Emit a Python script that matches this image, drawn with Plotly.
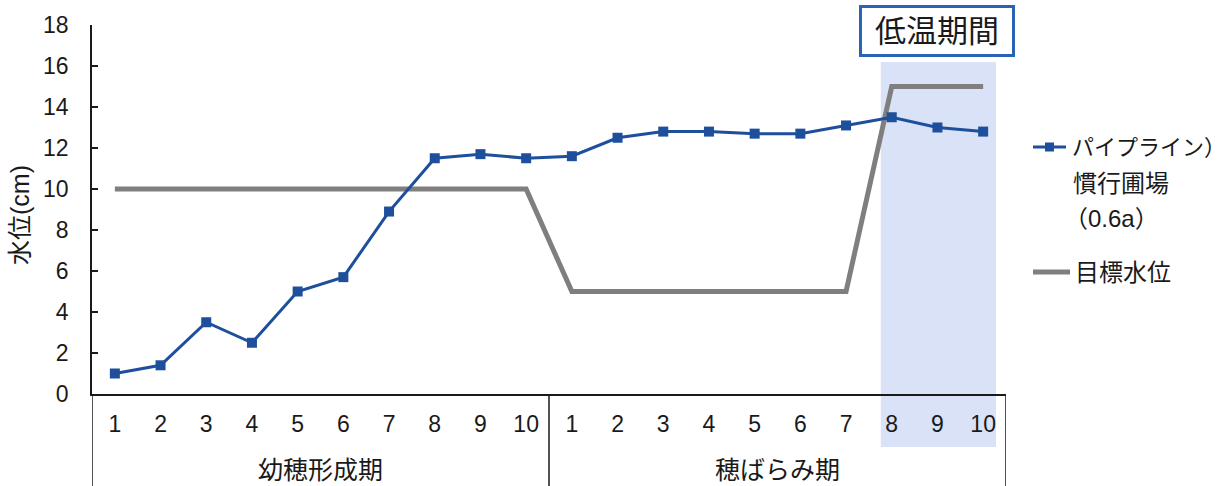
import plotly.graph_objects as go

# --- data -----------------------------------------------------------------
periods = ["幼穂形成期", "穂ばらみ期"]
days = ["1", "2", "3", "4", "5", "6", "7", "8", "9", "10"]

# water level of the pipeline field (cm)
pipeline_level = [1.0, 1.4, 3.5, 2.5, 5.0, 5.7, 8.9, 11.5, 11.7, 11.5,
                  11.6, 12.5, 12.8, 12.8, 12.7, 12.7, 13.1, 13.5, 13.0, 12.8]
# target water level (cm)
target_level = [10, 10, 10, 10, 10, 10, 10, 10, 10, 10,
                5, 5, 5, 5, 5, 5, 5, 15, 15, 15]

series_names = ["パイプライン）<br>慣行圃場<br>（0.6a）", "目標水位"]
legend_lines = ["パイプライン）", "慣行圃場", "（0.6a）"]
cold_label = "低温期間"
y_title = "水位(cm)"

# --- layout constants ------------------------------------------------------
W, H = 1230, 486
L, R, T, B = 92, 224, 25, 92
PW, PH = W - L - R, H - T - B
FONT = "Liberation Sans, Arial, Noto Sans CJK JP"
BLUE = "#1d4f9d"
GRAY = "#7f7f7f"
SHADE = "#d9e2f6"
BOX = "#2a63b5"
INK = "#1a1a1a"

n_days = len(days)
x_pos = list(range(len(periods) * n_days))
tick_text = days * len(periods)


def px_x(px):
    return (px - L) / PW


def px_y(py):
    return (H - B - py) / PH


fig = go.Figure()

fig.add_trace(go.Scatter(
    x=x_pos, y=target_level, mode="lines", name=series_names[1],
    line=dict(color=GRAY, width=5), showlegend=False, hoverinfo="skip"))

fig.add_trace(go.Scatter(
    x=x_pos, y=pipeline_level, mode="lines+markers", name=series_names[0],
    line=dict(color=BLUE, width=3),
    marker=dict(symbol="square", size=10, color=BLUE),
    showlegend=False, hoverinfo="skip"))

shapes = []
# cold-period shading (behind everything, reaches into the label band)
shapes.append(dict(type="rect", xref="x", yref="paper",
                   x0=16.76, x1=19.28, y0=px_y(447), y1=px_y(62),
                   fillcolor=SHADE, line=dict(width=0), layer="below"))
# category band below the x axis
for xb in (-0.5, n_days - 0.5, 2 * n_days - 0.5):
    shapes.append(dict(type="line", xref="x", yref="paper",
                       x0=xb, x1=xb, y0=0, y1=px_y(H + 5),
                       line=dict(color=INK, width=1.5)))

# legend samples
shapes.append(dict(type="line", xref="paper", yref="paper",
                   x0=px_x(1033), x1=px_x(1066), y0=px_y(147), y1=px_y(147),
                   line=dict(color=BLUE, width=3)))
shapes.append(dict(type="rect", xref="paper", yref="paper",
                   x0=px_x(1045), x1=px_x(1054), y0=px_y(151.5), y1=px_y(142.5),
                   fillcolor=BLUE, line=dict(width=0)))
shapes.append(dict(type="line", xref="paper", yref="paper",
                   x0=px_x(1033), x1=px_x(1070), y0=px_y(272), y1=px_y(272),
                   line=dict(color=GRAY, width=5)))

annotations = []
# period names
for i, p in enumerate(periods):
    annotations.append(dict(
        text=p, xref="x", yref="paper", x=i * n_days + (n_days - 1) / 2,
        y=px_y(470), showarrow=False, xanchor="center", yanchor="middle",
        font=dict(family=FONT, size=25, color=INK)))

# y axis title
annotations.append(dict(
    text=y_title, xref="paper", yref="paper", x=px_x(20), y=px_y(215),
    textangle=-90, showarrow=False, xanchor="center", yanchor="middle",
    font=dict(family=FONT, size=25, color=INK)))

# boxed label for the cold period
annotations.append(dict(
    text=cold_label, xref="x", yref="paper", x=18.0, y=px_y(31),
    showarrow=False, xanchor="center", yanchor="middle",
    width=150, height=46, borderpad=0, borderwidth=3, bordercolor=BOX,
    bgcolor="white", font=dict(family=FONT, size=31, color=INK)))

# legend text (full-width opening paren carries left padding, so nudge it)
for txt, yy, xx in zip(legend_lines, (147, 183, 218), (1070, 1071, 1062)):
    annotations.append(dict(
        text=txt, xref="paper", yref="paper", x=px_x(xx), y=px_y(yy),
        showarrow=False, xanchor="left", yanchor="middle",
        font=dict(family=FONT, size=22 if yy == 147 else 24, color=INK)))
annotations.append(dict(
    text=series_names[1], xref="paper", yref="paper", x=px_x(1073),
    y=px_y(272), showarrow=False, xanchor="left", yanchor="middle",
    font=dict(family=FONT, size=24, color=INK)))

fig.update_layout(
    width=W, height=H,
    margin=dict(l=L, r=R, t=T, b=B, pad=0),
    paper_bgcolor="white", plot_bgcolor="white",
    showlegend=False, hovermode=False,
    shapes=shapes, annotations=annotations,
    xaxis=dict(range=[-0.5, 2 * n_days - 0.5], tickmode="array",
               tickvals=x_pos, ticktext=tick_text, ticks="",
               showline=True, linecolor=INK, linewidth=1.5,
               showgrid=False, zeroline=False, ticklabelstandoff=9,
               tickfont=dict(family=FONT, size=23, color=INK)),
    yaxis=dict(range=[0, 18], dtick=2, tick0=0, ticks="inside", ticklen=6,
               tickcolor=INK, tickwidth=1.5,
               showline=True, linecolor=INK, linewidth=1.5,
               showgrid=False, zeroline=False, ticklabelstandoff=17,
               tickfont=dict(family=FONT, size=23, color=INK)),
)

fig.write_html("out.html", config={"displayModeBar": False})
